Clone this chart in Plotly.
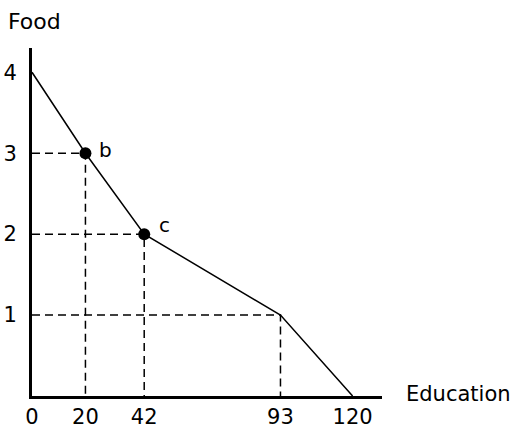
import plotly.graph_objects as go

# Data
education = [0, 20, 42, 93, 120]
food = [4, 3, 2, 1, 0]
point_labels = ["b", "c"]
point_x = [20, 42]
point_y = [3, 2]
guide_x = [20, 42, 93]
guide_y = [3, 2, 1]
x_ticks = [0, 20, 42, 93, 120]
y_ticks = [1, 2, 3, 4]

FONT = "DejaVu Sans"
fig = go.Figure()

# dashed guide lines
for gx, gy in zip(guide_x, guide_y):
    fig.add_trace(go.Scatter(x=[0, gx, gx], y=[gy, gy, 0], mode="lines",
                             line=dict(color="black", width=1.5, dash="8px,5px"),
                             hoverinfo="skip", showlegend=False))

# frontier line
fig.add_trace(go.Scatter(x=education, y=food, mode="lines",
                         line=dict(color="black", width=1.5),
                         showlegend=False))

# labeled points
fig.add_trace(go.Scatter(x=point_x, y=point_y, mode="markers",
                         marker=dict(color="black", size=12),
                         showlegend=False))

annotations = [
    dict(text=lab, x=px, y=py, xref="x", yref="y", xshift=20, yshift=ys,
         showarrow=False, font=dict(family=FONT, size=20))
    for lab, px, py, ys in zip(point_labels, point_x, point_y, [3, 9])
]
annotations += [
    dict(text="Food", xref="paper", yref="paper", x=0, y=1, xshift=-26, yshift=27,
         xanchor="left", yanchor="middle", showarrow=False,
         font=dict(family=FONT, size=22)),
    dict(text="Education", xref="paper", yref="paper", x=1, y=0, xshift=22, yshift=2,
         xanchor="left", yanchor="middle", showarrow=False,
         font=dict(family=FONT, size=21)),
]

fig.update_layout(
    width=528, height=428,
    margin=dict(l=32, r=146, t=48, b=32),
    paper_bgcolor="white", plot_bgcolor="white",
    font=dict(family=FONT, size=21, color="black"),
    xaxis=dict(range=[0, 131], tickvals=x_ticks, ticktext=[str(v) for v in x_ticks],
               showgrid=False, zeroline=False, showline=True, linecolor="black",
               linewidth=3, ticks="", ticklabelstandoff=0, automargin=False),
    yaxis=dict(range=[0, 4.3], tickvals=y_ticks, ticktext=[str(v) for v in y_ticks],
               showgrid=False, zeroline=False, showline=True, linecolor="black",
               linewidth=3, ticks="", ticklabelstandoff=8, automargin=False),
    annotations=annotations,
)

fig.write_html("out.html", config={"displayModeBar": False},
               post_script="document.body.style.margin='0';")
